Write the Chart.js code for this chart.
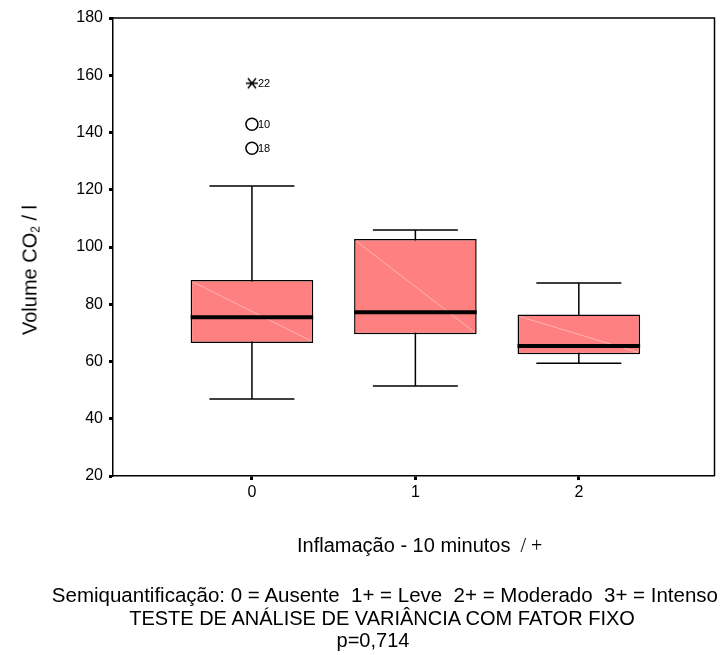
<!DOCTYPE html>
<html lang="pt">
<head>
  <meta charset="UTF-8">
  <title>Volume CO2 - Inflamação 10 minutos</title>
  <script src="https://cdn.jsdelivr.net/npm/chart.js"></script>
  <style>
    html, body { margin: 0; padding: 0; background: #fff; }
    .quadro {
      position: relative;
      width: 722px;
      height: 655px;
      font-family: "Liberation Sans", Arial, sans-serif;
      color: #000;
    }
    #grafico { position: absolute; left: 0; top: 0; }
    .titulo-y {
      position: absolute;
      left: 30px;
      top: 270px;
      font-size: 20px;
      white-space: nowrap;
      transform: translate(-50%, -50%) rotate(-90deg);
    }
    .titulo-y sub { font-size: 12px; vertical-align: -3px; line-height: 0; }
    .titulo-x {
      position: absolute;
      left: 297px;
      top: 533px;
      font-size: 20px;
      line-height: 24px;
      white-space: pre;
    }
    .titulo-x span { font-family: "Liberation Serif", serif; }
    .nota { position: absolute; font-size: 20px; line-height: 22px; white-space: pre; }
  </style>
</head>
<body>
  <div class="quadro">
    <canvas id="grafico" width="722" height="655"></canvas>
    <div class="titulo-y">Volume CO<sub>2</sub> / l</div>
    <div class="titulo-x">Inflamação - 10 minutos<span>  / +</span></div>
    <div class="nota" style="right:4px; top:584px; font-size:20.5px;">Semiquantificação: 0 = Ausente  1+ = Leve  2+ = Moderado  3+ = Intenso</div>
    <div class="nota" style="left:382px; top:607px; transform:translateX(-50%);">TESTE DE ANÁLISE DE VARIÂNCIA COM FATOR FIXO</div>
    <div class="nota" style="left:373px; top:629px; transform:translateX(-50%);">p=0,714</div>
  </div>

  <script>
    // grupos (inflamação) e estatísticas do boxplot
    const categorias = ['0', '1', '2'];
    const bigodeInferior = [46.9, 51.4, 59.4];
    const quartil1 = [66.5, 69.5, 62.5];
    const mediana = [75.5, 77.2, 65.4];
    const quartil3 = [88.5, 102.8, 76.4];
    const bigodeSuperior = [121.3, 105.9, 87.4];

    // casos atípicos
    const outlierGrupo = [0, 0, 0];
    const outlierValor = [157.2, 142.9, 134.5];
    const outlierCaso = ['22', '10', '18'];
    const outlierExtremo = [true, false, false];

    const ticksY = [20, 40, 60, 80, 100, 120, 140, 160, 180];

    const fonte = "'Liberation Sans', Arial, sans-serif";

    function asterisco() {
      const c = document.createElement('canvas');
      c.width = 14; c.height = 14;
      const g = c.getContext('2d');
      g.strokeStyle = '#000';
      g.lineWidth = 1.5;
      g.beginPath();
      g.moveTo(1, 7); g.lineTo(13, 7);
      g.moveTo(3, 2); g.lineTo(11, 12);
      g.moveTo(11, 2); g.lineTo(3, 12);
      g.stroke();
      return c;
    }
    const marcaExtremo = asterisco();

    const caixas = {
      id: 'caixas',
      beforeDatasetsDraw(chart) {
        const ctx = chart.ctx, x = chart.scales.x, y = chart.scales.y;
        ctx.save();
        ctx.strokeStyle = '#000';
        ctx.lineWidth = 1.5;
        categorias.forEach((c, i) => {
          const cx = x.getPixelForValue(i);
          const meia = x.getPixelForValue(i + 0.26) - cx;
          const yMin = y.getPixelForValue(bigodeInferior[i]);
          const yMax = y.getPixelForValue(bigodeSuperior[i]);
          ctx.beginPath();
          ctx.moveTo(cx, yMin); ctx.lineTo(cx, yMax);
          ctx.moveTo(cx - meia, yMin); ctx.lineTo(cx + meia, yMin);
          ctx.moveTo(cx - meia, yMax); ctx.lineTo(cx + meia, yMax);
          ctx.stroke();
        });
        ctx.restore();
      },
      afterDatasetsDraw(chart) {
        const ctx = chart.ctx, y = chart.scales.y, area = chart.chartArea;
        const barras = chart.getDatasetMeta(0).data;
        ctx.save();
        barras.forEach((b, i) => {
          const esq = b.x - b.width / 2, dir = b.x + b.width / 2;
          const topo = y.getPixelForValue(quartil3[i]);
          const base = y.getPixelForValue(quartil1[i]);
          // traço diagonal claro dentro da caixa
          ctx.strokeStyle = 'rgba(255, 200, 200, 0.9)';
          ctx.lineWidth = 0.8;
          ctx.beginPath();
          ctx.moveTo(esq + 2, topo + 2); ctx.lineTo(dir - 2, base - 2);
          ctx.stroke();
          // mediana
          const ym = y.getPixelForValue(mediana[i]);
          ctx.strokeStyle = '#000';
          ctx.lineWidth = 4;
          ctx.beginPath();
          ctx.moveTo(esq, ym); ctx.lineTo(dir, ym);
          ctx.stroke();
        });
        // moldura superior e direita
        ctx.strokeStyle = '#000';
        ctx.lineWidth = 1.5;
        ctx.beginPath();
        ctx.moveTo(area.left, area.top);
        ctx.lineTo(area.right, area.top);
        ctx.lineTo(area.right, area.bottom);
        ctx.stroke();
        // rótulos dos casos
        ctx.fillStyle = '#000';
        ctx.font = '11px ' + fonte;
        ctx.textAlign = 'left';
        ctx.textBaseline = 'middle';
        chart.getDatasetMeta(1).data.forEach((p, j) => {
          ctx.fillText(outlierCaso[j], p.x + 6, p.y + 1);
        });
        ctx.restore();
      }
    };

    new Chart(document.getElementById('grafico'), {
      type: 'bar',
      data: {
        datasets: [{
          label: 'Volume CO2',
          data: categorias.map((c, i) => ({ x: i, y: [quartil1[i], quartil3[i]] })),
          backgroundColor: '#FF8080',
          borderColor: '#000',
          borderWidth: 1.5,
          borderSkipped: false,
          barPercentage: 0.75,
          categoryPercentage: 1
        }, {
          type: 'scatter',
          label: 'Casos',
          data: outlierGrupo.map((g, j) => ({ x: g, y: outlierValor[j] })),
          pointStyle: outlierExtremo.map(e => e ? marcaExtremo : 'circle'),
          pointRadius: 6,
          borderColor: '#000',
          backgroundColor: 'rgba(0,0,0,0)',
          borderWidth: 1.5
        }]
      },
      options: {
        responsive: false,
        animation: false,
        devicePixelRatio: 1,
        layout: { padding: { left: 0, top: 18, right: 6, bottom: 0 } },
        plugins: { legend: { display: false }, tooltip: { enabled: false } },
        scales: {
          x: {
            type: 'linear',
            min: -0.85,
            max: 2.83,
            offset: false,
            afterBuildTicks: s => { s.ticks = categorias.map((c, i) => ({ value: i })); },
            afterFit: s => { s.height = 179; },
            grid: { offset: false, drawOnChartArea: false, tickLength: 4, tickWidth: 3, tickColor: '#000' },
            border: { display: true, color: '#000', width: 1.5 },
            ticks: {
              callback: v => categorias[v],
              font: { family: fonte, size: 16 },
              color: '#000',
              padding: 3,
              maxRotation: 0,
              autoSkip: false
            }
          },
          y: {
            min: 20,
            max: 180,
            afterBuildTicks: s => { s.ticks = ticksY.map(v => ({ value: v })); },
            afterFit: s => { s.width = 113; },
            grid: { drawOnChartArea: false, tickLength: 4, tickWidth: 3, tickColor: '#000' },
            border: { display: true, color: '#000', width: 1.5 },
            ticks: { font: { family: fonte, size: 16 }, color: '#000', padding: 6 }
          }
        }
      },
      plugins: [caixas]
    });
  </script>
</body>
</html>
